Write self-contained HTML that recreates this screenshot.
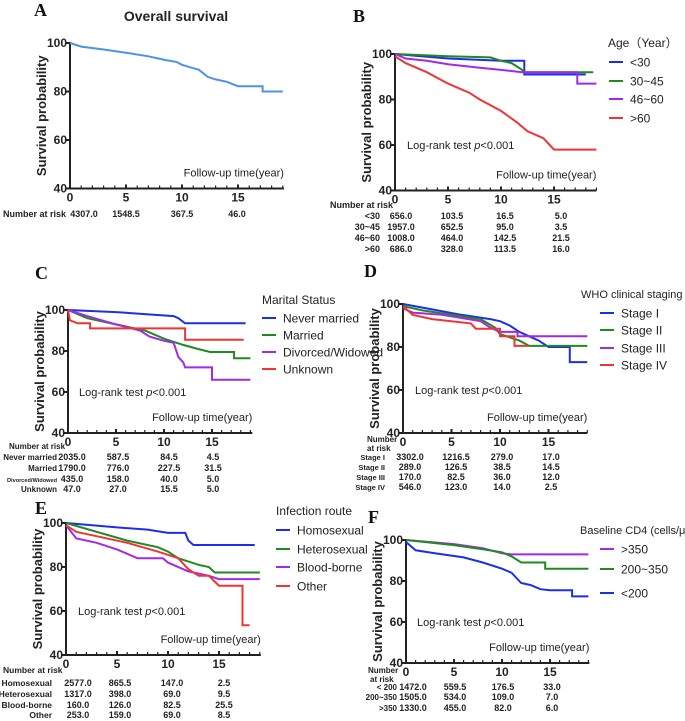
<!DOCTYPE html>
<html><head><meta charset="utf-8">
<style>
html,body{margin:0;padding:0;background:#fff;}
svg{display:block;font-family:"Liberation Sans",sans-serif;}
.tk{font-weight:bold;font-size:12px;fill:#222;}
.rk{font-weight:bold;font-size:9px;fill:#222;}
.lg{font-size:12px;fill:#222;}
.yt{font-weight:bold;font-size:13px;fill:#222;}
.pl{font-family:"Liberation Serif",serif;font-weight:bold;font-size:18px;fill:#111;}
.ann{font-size:11px;fill:#222;}
</style></head>
<body>
<svg id="fig" width="685" height="721" viewBox="0 0 685 721"></svg>
<script>
// ---------- data ----------
const xTicks=[0,5,10,15];
const yTicks=[40,60,80,100];
// Panel A
const aT=[0,1,3,5,7,8.5,9.5,10,11,11.5,12.3,13,14,15,17.2,17.2,19];
const aS=[100,98.5,97.3,96,94.5,93,92.2,91,89.6,89,86,85,84,82.2,82.2,80,80];
const aRisk=["4307.0","1548.5","367.5","46.0"];
// Panel B
const bNames=["<30","30~45","46~60",">60"];
const b1T=[0,5,10,12.2,12.2,18],b1S=[100,98,97,97,91,91];
const b2T=[0,5,9,10,11,12,12.2,18.7],b2S=[100,99,98.5,97,96,93,92,92];
const b3T=[0,1,3,5,8,10,12,17.2,17.2,19],b3S=[100,98,97,95.5,94,93,92,92,87,87];
const b4T=[0,1,3,5,7,8,10,11.5,12.5,14,15,19],b4S=[99,96,92,87,83,80,75,70,66,63,58,58];
const bRisk=[["656.0","103.5","16.5","5.0"],["1957.0","652.5","95.0","3.5"],["1008.0","464.0","142.5","21.5"],["686.0","328.0","113.5","16.0"]];
// Panel C
const cNames=["Never married","Married","Divorced/Widowed","Unknown"];
const c1T=[0,5,8,11,11.5,12.2,18.5],c1S=[100,99,98,97,96,93.5,93.5];
const c2T=[0,2,5,8,10,12,13.5,14.8,17.3,17.3,19],c2S=[100,96,93,90,86,83,81,79.5,79.5,76.5,76.5];
const c3T=[0,2,5,7.5,8.5,10,11,11.5,12,12.2,15,15,19],c3S=[100,97,93,90,87,85,84,77,74.5,72,72,66,66];
const c4T=[0,0.2,1,2.3,2.3,12.2,12.2,18.3],c4S=[100,95,93.5,93.5,91,91,85.5,85.5];
const cRisk=[["2035.0","587.5","84.5","4.5"],["1790.0","776.0","227.5","31.5"],["435.0","158.0","40.0","5.0"],["47.0","27.0","15.5","5.0"]];
// Panel D
const dNames=["Stage I","Stage II","Stage III","Stage IV"];
const d1T=[0,3,6,9,10,11,12,13,14,15,17.2,17.2,19],d1S=[100,97.5,95,93,92,90,87,85,83,80,80,73,73];
const d2T=[0,2,5,8,9.5,10,12,13,19],d2S=[99,97,95,93,89,86,83,80.5,80.5];
const d3T=[0,1,4,8,9,10,11.8,11.8,19],d3S=[98,96,95,92,89,87,87,85,85];
const d4T=[0,1,3,7,7.5,10,10,11.5,11.5,13],d4S=[99,95,93,91,88.5,88.5,85,85,80.5,80.5];
const dRisk=[["3302.0","1216.5","279.0","17.0"],["289.0","126.5","38.5","14.5"],["170.0","82.5","36.0","12.0"],["546.0","123.0","14.0","2.5"]];
// Panel E
const eNames=["Homosexual","Heterosexual","Blood-borne","Other"];
const e1T=[0,5,8,10,11.7,12,12.5,18.5],e1S=[100,98,97,95.5,95.5,92,90,90];
const e2T=[0,3,6,9,10,11,13,14,14.6,19],e2S=[100,96,92,89,87,84,81,80,77.5,77.5];
const e3T=[0,1,3,5,7,9.5,10,12,14,15,19],e3S=[99,93,91,88,84,84,82,78,76,74.5,74.5];
const e4T=[0,1,3,6,9,11,12,13,14,15,17.3,17.3,18],e4S=[99,96,94,91,87,84,79,76,76,71.5,71.5,53.5,53.5];
const eRisk=[["2577.0","865.5","147.0","2.5"],["1317.0","398.0","69.0","9.5"],["160.0","126.0","82.5","25.5"],["253.0","159.0","69.0","8.5"]];
// Panel F
const fNames=[">350","200~350","<200"];
const f1T=[0,5,8,10,11,19],f1S=[100,98,96,93.5,93,93];
const f2T=[0,5,8,10,11,12,14.5,14.5,19],f2S=[100,97.5,95.5,94,92,89,89,86,86];
const f3T=[0,1,3,6,8,10,11,12,13,14,15,17.3,17.3,19],f3S=[99,95,93.5,91.5,89,86,84,79,78,76,75.5,75.5,72.5,72.5];
const fRiskNames=["< 200","200~350",">350"];
const fRisk=[["1472.0","559.5","176.5","33.0"],["1505.0","534.0","109.0","7.0"],["1330.0","455.0","82.0","6.0"]];

const BLUE="#1c2fe6",GREEN="#1f8a1f",PURP="#a428e8",RED="#f03434";
// ---------- drawing ----------
const svg=document.getElementById('fig');
const NS="http://www.w3.org/2000/svg";
function el(tag,attrs,parent){const e=document.createElementNS(NS,tag);for(const k in attrs)e.setAttribute(k,attrs[k]);(parent||svg).appendChild(e);return e;}
function txt(s,x,y,cls,anchor,parent){const t=el('text',{x:x,y:y,class:cls,'text-anchor':anchor||'start'},parent);t.textContent=s;return t;}

function panel(p){
  const g=el('g',{});
  
  
  const X=t=>p.x0+(t/5)*(p.x5-p.x0);
  const Y=v=>p.y100+(100-v)/20*(p.y80-p.y100);
  const yb=Y(40), xe=X(p.xmax);
  const lab=txt(p.id,p.lx,p.ly,'pl','start',g);
  
  
  const ax=el('g',{},g);
  
  
  el('line',{x1:X(0),y1:Y(100)-1,x2:X(0),y2:yb,stroke:'#222','stroke-width':2},ax);
  el('line',{x1:X(0)-1,y1:yb,x2:xe,y2:yb,stroke:'#222','stroke-width':2},ax);
  for(let t=1;t<=Math.floor(p.xmax);t++){const maj=xTicks.includes(t);el('line',{x1:X(t),y1:yb,x2:X(t),y2:yb-(maj?4:3),stroke:'#222','stroke-width':maj?2:1.2},ax);}
  xTicks.forEach(t=>{const l=txt(String(t),X(t),yb+13,'tk','middle',ax);});
  yTicks.forEach(v=>{el('line',{x1:X(0)-4,y1:Y(v),x2:X(0),y2:Y(v),stroke:'#222','stroke-width':2},ax);const l=txt(String(v),X(0)-3,Y(v)+4,'tk','end',ax);});
  const ym=(Y(100)+yb)/2;
  const yt=txt('Survival probability',0,0,'yt','middle',ax);
  yt.setAttribute('transform','translate('+(X(0)-24)+','+ym+') rotate(-90)');
  
  const xt=txt('Follow-up time(year)',xe,yb-12,'ann','end',ax);
  
  if(p.logrank){const lr=el('text',{x:X(0)+p.lrdx,y:Y(60)+4,class:'ann'},ax);lr.innerHTML='Log-rank test <tspan font-style="italic">p</tspan>&lt;0.001';}
  p.series.forEach(s=>{
    let d='';s.t.forEach((t,i)=>{d+=(i?'L':'M')+X(t).toFixed(1)+','+Y(s.s[i]).toFixed(1);});
    const path=el('path',{d:d,fill:'none',stroke:s.c,'stroke-width':2,'stroke-linejoin':'miter'},g);
    
    
  });
  if(p.leg){
    const lg=el('g',{},g);
    
    const tt=txt(p.leg.title,p.leg.x,p.leg.ty,'lg','start',lg);
    if(p.leg.ts) tt.style.fontSize=p.leg.ts+'px';
    p.series.forEach((s,i)=>{
      const yy=p.leg.ys[i];
      const e=el('g',{},lg);
      
      el('line',{x1:p.leg.lx,y1:yy,x2:p.leg.lx+14,y2:yy,stroke:s.c,'stroke-width':2},e);
      txt(s.n,p.leg.lx+21,yy+4.5,'lg','start',e);
    });
  }
  const rt=el('g',{},g);
  
  p.riskHead.forEach(h=>{const t=txt(h[0],h[1],h[2],'rk',h[3]||'start',rt);if(p.headSize)t.style.fontSize=p.headSize+'px';});
  p.risk.forEach((row,i)=>{
    if(p.riskNames){const t=txt(p.riskNames[i],p.rlx,p.rys[i],'rk','end',rt);if(p.nameSizes)t.style.fontSize=p.nameSizes[i]+'px';}
    row.forEach((v,j)=>txt(v,p.rvx[j],p.rys[i],'rk','middle',rt));
  });
}

function mk(names,cols,arrT,arrS){return names.map((n,i)=>({n:n,c:cols[i],t:arrT[i],s:arrS[i]}));}

const ttl=txt('Overall survival',176,21,'yt','middle');ttl.style.fontSize='14px';
panel({id:'A',lx:34,ly:16,x0:70,x5:126,y100:43,y80:91.5,xmax:19.1,logrank:false,
  series:[{n:'Overall',c:'#4b93e6',t:aT,s:aS}],
  riskHead:[['Number at risk',3,217]],risk:[aRisk],rvx:[84,126,182,237],rys:[217]});
panel({id:'B',lx:353,ly:22,x0:395,x5:448,y100:54,y80:99.5,xmax:19,logrank:true,lrdx:12,
  series:mk(bNames,[BLUE,GREEN,PURP,RED],[b1T,b2T,b3T,b4T],[b1S,b2S,b3S,b4S]),
  leg:{title:'Age（Year）',x:608,ty:47,lx:609,ys:[62,81,99,118]},
  riskHead:[['Number at risk',330,208]],riskNames:bNames,rlx:380,risk:bRisk,rvx:[401,452,505,561],rys:[219,230,241,252]});
panel({id:'C',lx:35,ly:279,x0:68,x5:116,y100:310,y80:351,xmax:19.2,logrank:true,lrdx:11,
  series:mk(cNames,[BLUE,GREEN,PURP,RED],[c1T,c2T,c3T,c4T],[c1S,c2S,c3S,c4S]),
  leg:{title:'Marital Status',x:262,ty:304,lx:262,ys:[318,335,352,369]},
  headSize:8,nameSizes:[8,8,5.6,8],
  riskHead:[['Number at risk',9,449]],riskNames:cNames,rlx:57,risk:cRisk,rvx:[72,118,169,213],rys:[460,471,482,492]});
panel({id:'D',lx:364,ly:277,x0:403,x5:451.5,y100:304,y80:347,xmax:19,logrank:true,lrdx:12,
  series:mk(dNames,[BLUE,GREEN,PURP,RED],[d1T,d2T,d3T,d4T],[d1S,d2S,d3S,d4S]),
  leg:{title:'WHO clinical staging',x:581,ty:298,lx:600,ys:[313,330,348,365],ts:11},
  headSize:8,nameSizes:[7.5,7.5,7.5,7.5],
  riskHead:[['Number',367,442],['at risk',367,451]],riskNames:dNames,rlx:385,risk:dRisk,rvx:[410,456,502,551],rys:[460,470,480,490]});
panel({id:'E',lx:35,ly:514,x0:66,x5:117,y100:523,y80:567,xmax:19.1,logrank:true,lrdx:12,
  series:mk(eNames,[BLUE,GREEN,PURP,RED],[e1T,e2T,e3T,e4T],[e1S,e2S,e3S,e4S]),
  leg:{title:'Infection route',x:276,ty:515,lx:276,ys:[530,549,567,586]},
  headSize:8.5,nameSizes:[8.5,8.5,8.5,8.5],
  riskHead:[['Number at risk',3,673]],riskNames:eNames,rlx:52,risk:eRisk,rvx:[78,120,172,224],rys:[686,697,708,718]});
panel({id:'F',lx:368,ly:523,x0:406,x5:454,y100:540,y80:581,xmax:19.1,logrank:true,lrdx:11,
  series:mk(fNames,[PURP,GREEN,BLUE],[f1T,f2T,f3T],[f1S,f2S,f3S]),
  leg:{title:'Baseline CD4 (cells/μL)',x:580,ty:534,lx:600,ys:[549,569,593],ts:11},
  headSize:8,nameSizes:[8,8,8],
  riskHead:[['Number',368,673],['at risk',370,682]],riskNames:fRiskNames,rlx:397,risk:fRisk,rvx:[413,455,503,552],rys:[690,700,711]});
</script>
</body></html>
